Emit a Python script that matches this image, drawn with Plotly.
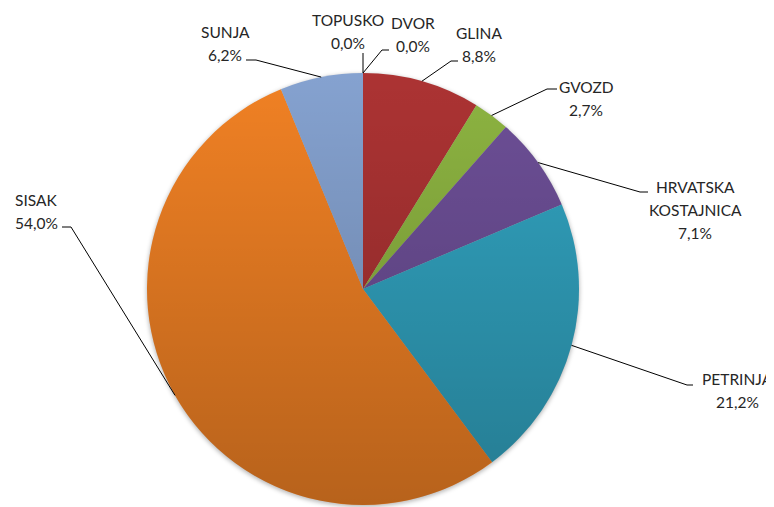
import math
import base64
import plotly.graph_objects as go

# ---- data ----
categories = ["DVOR", "GLINA", "GVOZD", "HRVATSKA KOSTAJNICA", "PETRINJA", "SISAK", "SUNJA", "TOPUSKO"]
label_lines = [["DVOR"], ["GLINA"], ["GVOZD"], ["HRVATSKA", "KOSTAJNICA"], ["PETRINJA"], ["SISAK"], ["SUNJA"], ["TOPUSKO"]]
shares = [0.0, 8.8, 2.7, 7.1, 21.2, 54.0, 6.2, 0.0]
colors = ["#AC3333", "#AC3333", "#8DB441", "#6D4F97", "#31A3C0", "#F18124", "#85A2D0", "#85A2D0"]

# ---- layout (pixel geometry of the 774x507 window) ----
WIN_W, WIN_H = 774, 507
OFF = 8                      # default page body margin
W, H = WIN_W - OFF, WIN_H - OFF
CX, CY, R = 363, 289, 216
# per label: elbow point of leader, end of leader, text centre x, first line y (window pixels)
label_layout = [
    dict(elbow=(382, 50), end=(389, 50), tx=413, ty=23),     # DVOR
    dict(elbow=(451, 61), end=(458, 61), tx=479, ty=33),     # GLINA
    dict(elbow=(547, 89), end=(557, 89), tx=586, ty=87),     # GVOZD
    dict(elbow=(640, 192), end=(648, 192), tx=695, ty=187),  # HRVATSKA KOSTAJNICA
    dict(elbow=(687, 385), end=(693, 385), tx=737, ty=379),  # PETRINJA
    dict(elbow=(71, 227), end=(62, 227), tx=36, ty=200),     # SISAK
    dict(elbow=(256, 60), end=(246, 60), tx=225, ty=32),     # SUNJA
    dict(elbow=(363, 53), end=(363, 53), tx=348, ty=20),     # TOPUSKO
]
LINE_H = 23
FONT = "Lato, 'Open Sans', sans-serif"
FONT_SIZE = 15.5
TXT = "#262626"


def px(x):
    return (x - OFF) / W


def py(y):
    return 1 - (y - OFF) / H


fig = go.Figure()
fig.add_trace(go.Pie(
    labels=categories,
    values=[max(v, 1e-9) for v in shares],
    sort=False,
    direction="clockwise",
    rotation=0,
    marker=dict(colors=colors, line=dict(width=0)),
    textinfo="none",
    hoverinfo="label+percent",
    showlegend=False,
    domain=dict(x=[px(CX - R), px(CX + R)], y=[py(CY + R), py(CY - R)]),
))

total = sum(shares)
cum = 0.0
shapes = []
annotations = []
for i, v in enumerate(shares):
    mid = (cum + v / 2) / total
    cum += v
    ang = 2 * math.pi * mid
    ex = CX + R * math.sin(ang)
    ey = CY - R * math.cos(ang)
    lay = label_layout[i]
    (bx, by), (fx, fy) = lay["elbow"], lay["end"]
    shapes.append(dict(
        type="path", xref="paper", yref="paper",
        path=f"M {px(ex)} {py(ey)} L {px(bx)} {py(by)} L {px(fx)} {py(fy)}",
        line=dict(color="black", width=1),
    ))
    lines = label_lines[i] + [f"{v:.1f}".replace(".", ",") + "%"]
    for k, t in enumerate(lines):
        annotations.append(dict(
            x=px(lay["tx"]), y=py(lay["ty"] + k * LINE_H),
            xref="paper", yref="paper", text=t, showarrow=False,
            xanchor="center", yanchor="middle",
            font=dict(family=FONT, size=FONT_SIZE, color=TXT),
        ))

# vertical shading over the pie (Excel-style gradient) and a soft shadow beneath it
D = 2 * R
shade_svg = (
    f"<svg xmlns='http://www.w3.org/2000/svg' width='{D}' height='{D}' viewBox='0 0 {D} {D}'>"
    "<defs><linearGradient id='g' x1='0' y1='0' x2='0' y2='1'>"
    "<stop offset='0' stop-color='#000' stop-opacity='0'/>"
    "<stop offset='1' stop-color='#000' stop-opacity='0.24'/>"
    "</linearGradient></defs>"
    f"<circle cx='{R}' cy='{R}' r='{R}' fill='url(#g)'/></svg>"
)
PAD = 8
S = D + 2 * PAD
shadow_svg = (
    f"<svg xmlns='http://www.w3.org/2000/svg' width='{S}' height='{S}' viewBox='0 0 {S} {S}'>"
    "<defs><filter id='b' x='-10%' y='-10%' width='120%' height='120%'>"
    "<feGaussianBlur stdDeviation='2'/></filter></defs>"
    f"<circle cx='{R + PAD}' cy='{R + PAD + 1.5}' r='{R + 0.5}' fill='#000' fill-opacity='0.28' filter='url(#b)'/></svg>"
)


def uri(svg):
    return "data:image/svg+xml;base64," + base64.b64encode(svg.encode()).decode()


images = [
    dict(source=uri(shadow_svg), xref="paper", yref="paper",
         x=px(CX - R - PAD), y=py(CY - R - PAD), sizex=S / W, sizey=S / H,
         xanchor="left", yanchor="top", sizing="stretch", layer="below"),
    dict(source=uri(shade_svg), xref="paper", yref="paper",
         x=px(CX - R), y=py(CY - R), sizex=D / W, sizey=D / H,
         xanchor="left", yanchor="top", sizing="stretch", layer="above"),
]

fig.update_layout(
    width=W, height=H,
    margin=dict(l=0, r=0, t=0, b=0),
    paper_bgcolor="white",
    plot_bgcolor="white",
    shapes=shapes,
    annotations=annotations,
    images=images,
)

fig.write_html("out.html")
